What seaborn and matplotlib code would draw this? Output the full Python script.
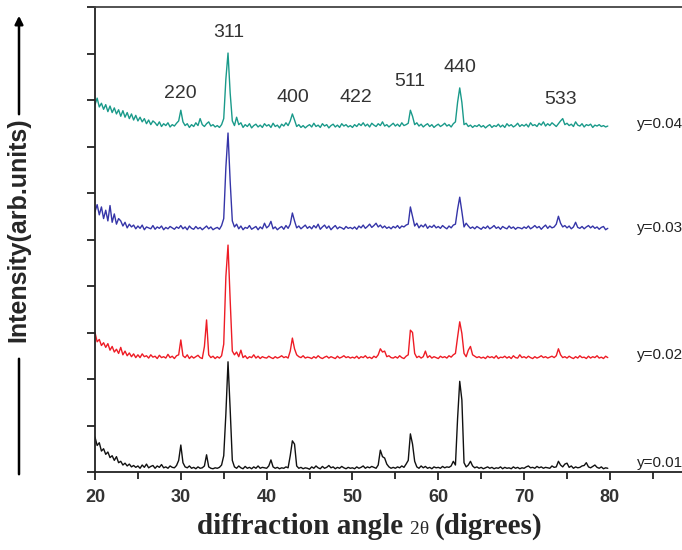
"""
XRD patterns of the y = 0.01 ... 0.04 ferrite series, stacked with offsets.
"""

import numpy as np
import pandas as pd
import matplotlib
matplotlib.use("Agg")
import matplotlib.pyplot as plt
import seaborn as sns

# ── Data ────────────────────────────────────────────────────────────────
# 2-theta grid 20.00 ... 79.75 deg, 0.25 deg step; intensities in counts
# above each pattern's own baseline, one row = 5 degrees
two_theta = np.arange(20.0, 80.0, 0.25)

int_y001 = [
    70, 52, 58, 40, 45, 33, 38, 26, 30, 20, 28, 15, 18, 10, 14, 8, 12, 6, 9, 5,      # 20
    8, 3, 10, 5, 12, 4, 7, 9, 3, 8, 5, 11, 4, 6, 3, 8, 5, 4, 9, 20,                  # 25
    53, 15, 6, 4, 8, 3, 5, 2, 6, 3, 4, 8, 32, 6, 3, 2, 4, 3, 5, 10,                  # 30
    30, 120, 232, 130, 20, 6, 3, 8, 4, 2, 7, 3, 5, 2, 6, 3, 8, 3, 5, 4,              # 35
    3, 8, 21, 6, 3, 5, 2, 4, 3, 6, 4, 30, 62, 55, 8, 3, 5, 2, 4, 3,                  # 40
    1, 6, 3, 8, 4, 2, 7, 3, 5, 9, 4, 6, 2, 5, 3, 7, 4, 2, 5, 3,                      # 45
    4, 2, 6, 3, 5, 8, 3, 6, 4, 7, 5, 3, 10, 42, 28, 25, 12, 6, 3, 5,                 # 50
    3, 6, 4, 8, 5, 12, 20, 77, 55, 18, 6, 3, 8, 4, 7, 3, 5, 2, 6, 4,                 # 55
    5, 3, 7, 4, 6, 5, 8, 18, 10, 110, 190, 150, 15, 6, 10, 18, 8, 4, 6, 3,           # 60
    5, 2, 4, 6, 3, 5, 2, 4, 3, 6, 2, 5, 3, 4, 2, 6, 3, 5, 2, 4,                      # 65
    3, 6, 8, 4, 5, 3, 7, 4, 6, 3, 5, 4, 3, 8, 5, 6, 18, 10, 6, 12,                   # 70
    14, 5, 8, 3, 6, 4, 5, 8, 9, 15, 6, 4, 7, 10, 5, 3, 6, 2, 4, 3,                   # 75
]

int_y002 = [
    60, 40, 45, 32, 38, 28, 36, 22, 30, 18, 24, 15, 28, 12, 20, 10, 16, 8, 14, 6,
    12, 6, 14, 8, 10, 5, 12, 7, 9, 4, 11, 6, 8, 5, 13, 6, 9, 4, 10, 12,
    44, 10, 6, 12, 4, 9, 5, 8, 11, 6, 4, 30, 87, 12, 6, 9, 4, 8, 5, 10,
    35, 180, 248, 130, 20, 12, 18, 8, 22, 6, 10, 4, 8, 6, 12, 5, 9, 4, 8, 6,
    5, 9, 6, 4, 8, 5, 7, 10, 6, 8, 5, 20, 48, 25, 12, 8, 6, 10, 5, 7,
    6, 4, 8, 5, 10, 6, 4, 7, 9, 5, 8, 6, 4, 9, 5, 7, 10, 6, 8, 5,
    7, 5, 9, 4, 8, 6, 10, 5, 7, 4, 9, 6, 12, 25, 18, 20, 8, 10, 6, 5,
    8, 5, 10, 6, 4, 9, 12, 65, 60, 15, 6, 9, 5, 8, 20, 6, 10, 5, 8, 6,
    4, 9, 6, 8, 5, 10, 7, 12, 15, 50, 83, 58, 15, 8, 22, 30, 12, 9, 6, 8,
    5, 7, 4, 9, 6, 8, 5, 10, 4, 7, 6, 9, 5, 8, 4, 10, 6, 5, 12, 6,
    8, 5, 9, 6, 4, 8, 5, 7, 10, 6, 8, 5, 7, 9, 6, 10, 25, 12, 6, 8,
    5, 9, 6, 4, 8, 5, 10, 6, 7, 4, 9, 5, 8, 6, 10, 5, 7, 4, 9, 6,
]

int_y003 = [
    45, 60, 38, 55, 30, 48, 25, 58, 22, 40, 18, 30, 25, 14, 22, 10, 18, 12, 16, 8,
    14, 9, 16, 6, 12, 10, 8, 15, 7, 12, 9, 14, 6, 11, 8, 13, 10, 7, 12, 9,
    15, 8, 12, 6, 14, 9, 7, 13, 8, 11, 6, 10, 14, 8, 12, 6, 9, 11, 7, 15,
    30, 140, 214, 110, 25, 12, 18, 8, 14, 6, 11, 9, 15, 7, 10, 13, 6, 12, 8, 20,
    10, 14, 24, 8, 12, 6, 10, 13, 7, 15, 9, 18, 42, 25, 10, 14, 8, 12, 16, 9,
    13, 8, 15, 10, 18, 7, 12, 16, 9, 14, 6, 11, 15, 8, 12, 10, 7, 13, 9, 11,
    8, 12, 7, 14, 10, 16, 9, 13, 18, 11, 15, 20, 12, 16, 10, 14, 9, 12, 8, 13,
    10, 15, 9, 14, 12, 16, 18, 55, 35, 14, 20, 10, 16, 12, 18, 9, 14, 11, 16, 10,
    13, 9, 15, 11, 8, 14, 10, 16, 18, 50, 76, 45, 12, 20, 14, 9, 12, 8, 13, 10,
    7, 12, 9, 14, 8, 11, 15, 9, 12, 7, 13, 10, 8, 14, 9, 12, 7, 11, 10, 8,
    12, 9, 14, 8, 11, 15, 10, 13, 7, 12, 16, 9, 14, 10, 12, 18, 35, 20, 12, 15,
    10, 14, 8, 12, 22, 11, 9, 13, 8, 12, 15, 10, 14, 9, 12, 7, 11, 13, 6, 9,
]

int_y004 = [
    55, 69, 50, 58, 45, 55, 40, 52, 38, 48, 35, 44, 30, 42, 28, 38, 25, 35, 22, 32,
    20, 28, 18, 25, 14, 22, 12, 20, 16, 10, 18, 8, 14, 10, 16, 7, 12, 9, 15, 20,
    43, 18, 10, 14, 6, 12, 8, 16, 10, 25, 12, 8, 14, 18, 9, 12, 7, 10, 6, 12,
    25, 110, 166, 80, 20, 10, 28, 12, 16, 6, 12, 8, 14, 5, 10, 13, 7, 11, 6, 14,
    9, 12, 6, 15, 8, 11, 5, 13, 9, 16, 10, 20, 35, 22, 8, 12, 6, 10, 5, 9,
    12, 7, 15, 8, 11, 6, 14, 9, 12, 5, 10, 13, 7, 11, 6, 14, 9, 12, 7, 10,
    6, 12, 8, 14, 10, 16, 9, 13, 7, 15, 11, 8, 14, 10, 18, 9, 12, 7, 11, 15,
    9, 13, 8, 16, 10, 12, 15, 43, 30, 12, 16, 9, 13, 7, 11, 14, 8, 12, 6, 10,
    13, 8, 11, 15, 9, 12, 7, 14, 18, 60, 91, 60, 12, 15, 8, 11, 6, 10, 8, 12,
    7, 10, 5, 9, 12, 6, 10, 8, 13, 7, 11, 6, 14, 9, 12, 7, 10, 15, 8, 12,
    9, 13, 7, 16, 10, 12, 8, 15, 11, 18, 9, 14, 10, 16, 12, 8, 14, 20, 25, 12,
    15, 10, 13, 8, 18, 11, 9, 14, 7, 12, 10, 13, 6, 11, 9, 12, 8, 10, 7, 9,
]

samples = ["y=0.01", "y=0.02", "y=0.03", "y=0.04"]
hkl_labels = ["220", "311", "400", "422", "511", "440", "533"]

# ── Layout / style ──────────────────────────────────────────────────────
stack_offset = {"y=0.01": 5, "y=0.02": 240, "y=0.03": 515, "y=0.04": 735}
line_colors = {"y=0.01": "#111111", "y=0.02": "#ee1c25",
               "y=0.03": "#3535a8", "y=0.04": "#1a9a8a"}
hkl_xy = [(29.9, 815), (35.6, 946), (43.0, 806), (50.4, 806),
          (56.7, 839), (62.5, 869), (74.2, 800)]
sample_label_y = {"y=0.04": 748, "y=0.03": 525, "y=0.02": 252, "y=0.01": 19}

sns.set_style("ticks")
plt.rcParams['font.family'] = ['Liberation Sans', 'DejaVu Sans']

# ── Build long table ────────────────────────────────────────────────────
frames = []
for name, vals in zip(samples, [int_y001, int_y002, int_y003, int_y004]):
    d = pd.DataFrame({"two_theta": two_theta, "intensity": vals})
    d["sample"] = name
    d["shifted"] = d["intensity"] + stack_offset[name]
    frames.append(d)
df = pd.concat(frames, ignore_index=True)

# ── Plot ────────────────────────────────────────────────────────────────
fig = plt.figure(figsize=(6.82, 5.5), dpi=100)
ax = fig.add_axes([95 / 682, 1 - 472 / 550, 1 - 95 / 682, (472 - 7) / 550])

sns.lineplot(data=df, x="two_theta", y="shifted", hue="sample",
             palette=line_colors, estimator=None, sort=False,
             legend=False, linewidth=1.0, ax=ax)

ax.set_xticks(np.arange(20, 81, 10))
ax.set_xticks(np.arange(25, 90, 10), minor=True)
ax.set_yticks(np.arange(0, 1001, 100))
ax.set_yticklabels([])
ax.set_xlim(20, 88.4)
ax.set_ylim(0, 1000)
ax.set_xlabel("")
ax.set_ylabel("")
ax.tick_params(axis="both", which="major", direction="out", length=6,
               width=1.3, color="#222222")
ax.tick_params(axis="x", which="minor", direction="out", length=5,
               width=1.3, color="#222222")
ax.tick_params(axis="x", which="major", pad=6, labelsize=13,
               labelcolor="#333333")
for lab in ax.get_xticklabels():
    lab.set_family(['Liberation Sans Narrow', 'Liberation Sans'])
    lab.set_fontweight('bold')

ax.spines['right'].set_visible(False)
for s in ['left', 'bottom', 'top']:
    ax.spines[s].set_linewidth(1.3)
    ax.spines[s].set_color('#222222')
ax.spines['top'].set_color('#444444')

# Miller indices
for lab, (x, y) in zip(hkl_labels, hkl_xy):
    ax.text(x, y, lab, ha='center', va='center', fontsize=14, color='#333333')

# sample tags at the right
for name in samples:
    ax.text(83.15, sample_label_y[name], name, ha='left', va='center',
            fontsize=11, color='#222222', clip_on=False)

# y label with arrow through it
fig.text(18.5 / 682, 1 - 230 / 550, "Intensity(arb.units)", rotation=90,
         ha='center', va='center', fontsize=18, fontweight='bold')
ax.annotate("", xy=(19, 550 - 13), xytext=(19, 550 - 117),
            xycoords='figure pixels', textcoords='figure pixels',
            arrowprops=dict(arrowstyle='-|>', lw=1.8, color='black',
                            mutation_scale=12))
ax.annotate("", xy=(19, 550 - 356), xytext=(19, 550 - 477),
            xycoords='figure pixels', textcoords='figure pixels',
            arrowprops=dict(arrowstyle='-', lw=1.8, color='black'))

# x label in three pieces (2θ is smaller and not bold)
base_y = 1 - 534 / 550
t1 = fig.text(197 / 682, base_y, "diffraction angle ", fontsize=21,
              fontweight='bold', family='Liberation Serif', va='baseline')
fig.canvas.draw()
r = fig.canvas.get_renderer()
x2 = t1.get_window_extent(r).x1 / fig.bbox.width
t2 = fig.text(x2, base_y, "2θ ", fontsize=14, family='Liberation Serif',
              va='baseline')
fig.canvas.draw()
x3 = t2.get_window_extent(r).x1 / fig.bbox.width
fig.text(x3, base_y, "(digrees)", fontsize=21, fontweight='bold',
         family='Liberation Serif', va='baseline')

fig.savefig("out.png", dpi=100)
